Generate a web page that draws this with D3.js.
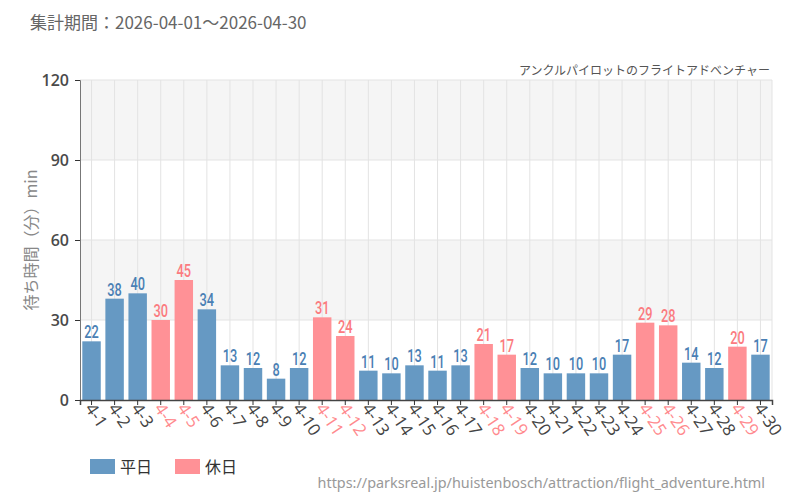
<!DOCTYPE html>
<html><head><meta charset="utf-8">
<script src="https://cdn.jsdelivr.net/npm/d3@7"></script>
<style>body{margin:0;background:#fff;font-family:"Noto Sans CJK JP","Noto Sans",sans-serif;}</style>
</head><body><svg id="c" width="800" height="500"></svg>
<script>
const categories = ["4-1","4-2","4-3","4-4","4-5","4-6","4-7","4-8","4-9","4-10","4-11","4-12","4-13","4-14","4-15","4-16","4-17","4-18","4-19","4-20","4-21","4-22","4-23","4-24","4-25","4-26","4-27","4-28","4-29","4-30"];
const waitValues = [22,38,40,30,45,34,13,12,8,12,31,24,11,10,13,11,13,21,17,12,10,10,10,17,29,28,14,12,20,17];
const holidays = ["4-4","4-5","4-11","4-12","4-18","4-19","4-25","4-26","4-29"];
const yTicks = [0,30,60,90,120];
const legendLabels = ["平日","休日"];

const svg = d3.select("#c");
const m = {l:80, r:772, t:80, b:400};
const x = d3.scaleBand().domain(categories).range([m.l, m.r]).paddingInner(0.2).paddingOuter(0.1);
const y = d3.scaleLinear().domain([0,120]).range([m.b, m.t]);
const isHol = d => holidays.includes(d);
const barWeek = "#6699c3", barHol = "#ff9196";
const lblWeek = "#4a80b4", lblHol = "#fb7b80";

// bands
for (let i=0;i<yTicks.length-1;i++){
  svg.append("rect").attr("x",m.l).attr("width",m.r-m.l)
    .attr("y",y(yTicks[i+1])).attr("height",y(yTicks[i])-y(yTicks[i+1]))
    .attr("fill", i%2===1 ? "#f5f5f5" : "#ffffff");
}
// grid
svg.append("g").selectAll("line").data(yTicks.slice(1)).join("line")
  .attr("x1",m.l).attr("x2",m.r).attr("y1",d=>y(d)).attr("y2",d=>y(d))
  .attr("stroke","#e3e3e3").attr("stroke-width",1);
svg.append("g").selectAll("line").data(categories).join("line")
  .attr("x1",d=>x(d)+x.bandwidth()/2).attr("x2",d=>x(d)+x.bandwidth()/2)
  .attr("y1",m.t).attr("y2",m.b).attr("stroke","#e3e3e3").attr("stroke-width",1);
svg.append("line").attr("x1",m.r).attr("x2",m.r).attr("y1",m.t).attr("y2",m.b).attr("stroke","#e3e3e3");

// bars
svg.append("g").selectAll("rect").data(categories).join("rect")
  .attr("x",d=>x(d)).attr("width",x.bandwidth())
  .attr("y",(d,i)=>y(waitValues[i])).attr("height",(d,i)=>y(0)-y(waitValues[i]))
  .attr("fill",d=>isHol(d)?barHol:barWeek);
// value labels
svg.append("g").selectAll("text").data(categories).join("text")
  .attr("text-anchor","middle")
  .attr("font-family","Roboto,sans-serif").attr("font-weight",500)
  .attr("font-size",17).attr("fill",d=>isHol(d)?lblHol:lblWeek)
  .attr("transform",(d,i)=>`translate(${x(d)+x.bandwidth()/2},${y(waitValues[i])-3}) scale(0.75,1.1)`)
  .text((d,i)=>waitValues[i]);

// y axis
const ya = svg.append("g").attr("transform",`translate(${m.l},0)`)
  .call(d3.axisLeft(y).tickValues(yTicks).tickSize(5).tickPadding(6));
ya.select(".domain").attr("stroke","#777");
ya.selectAll(".tick line").attr("stroke","#333");
ya.selectAll("text").attr("font-family","'Open Sans',sans-serif").attr("font-size",16).attr("font-weight",600).attr("fill","#4a4a4a");

// x axis
const xa = svg.append("g").attr("transform",`translate(0,${m.b})`)
  .call(d3.axisBottom(x).tickSize(5).tickPadding(4));
xa.select(".domain").attr("stroke","#444").attr("stroke-width",1.5);
xa.selectAll(".tick line").attr("stroke","#333");
xa.selectAll("text").attr("font-family","'Open Sans',sans-serif").attr("font-size",17)
  .attr("fill",d=>isHol(d)?"#ff8a8e":"#444")
  .attr("text-anchor","start").attr("x",0).attr("y",0).attr("dy","0.35em")
  .attr("transform","translate(-2,5) rotate(56)");

// texts
svg.append("text").attr("x",30).attr("y",29).attr("font-size",17).attr("fill","#666")
  .text("集計期間：2026-04-01～2026-04-30");
svg.append("text").attr("x",770).attr("y",75).attr("text-anchor","end").attr("font-size",12).attr("fill","#555")
  .text("アンクルパイロットのフライトアドベンチャー");
svg.append("text").attr("transform","translate(37,240) rotate(-90)").attr("text-anchor","middle")
  .attr("font-size",16).attr("fill","#888").text("待ち時間（分）min");

// legend
const lg = svg.append("g");
[barWeek,barHol].forEach((c,i)=>{
  const lx = 90 + i*85;
  lg.append("rect").attr("x",lx).attr("y",459).attr("width",25).attr("height",15).attr("fill",c);
  lg.append("text").attr("x",lx+30).attr("y",473).attr("font-size",16).attr("fill","#333").text(legendLabels[i]);
});
svg.append("text").attr("x",765).attr("y",488).attr("text-anchor","end")
  .attr("font-family","'Noto Sans',sans-serif")
  .attr("font-size",14.4).attr("fill","#999")
  .text("https://parksreal.jp/huistenbosch/attraction/flight_adventure.html");
</script></body></html>
